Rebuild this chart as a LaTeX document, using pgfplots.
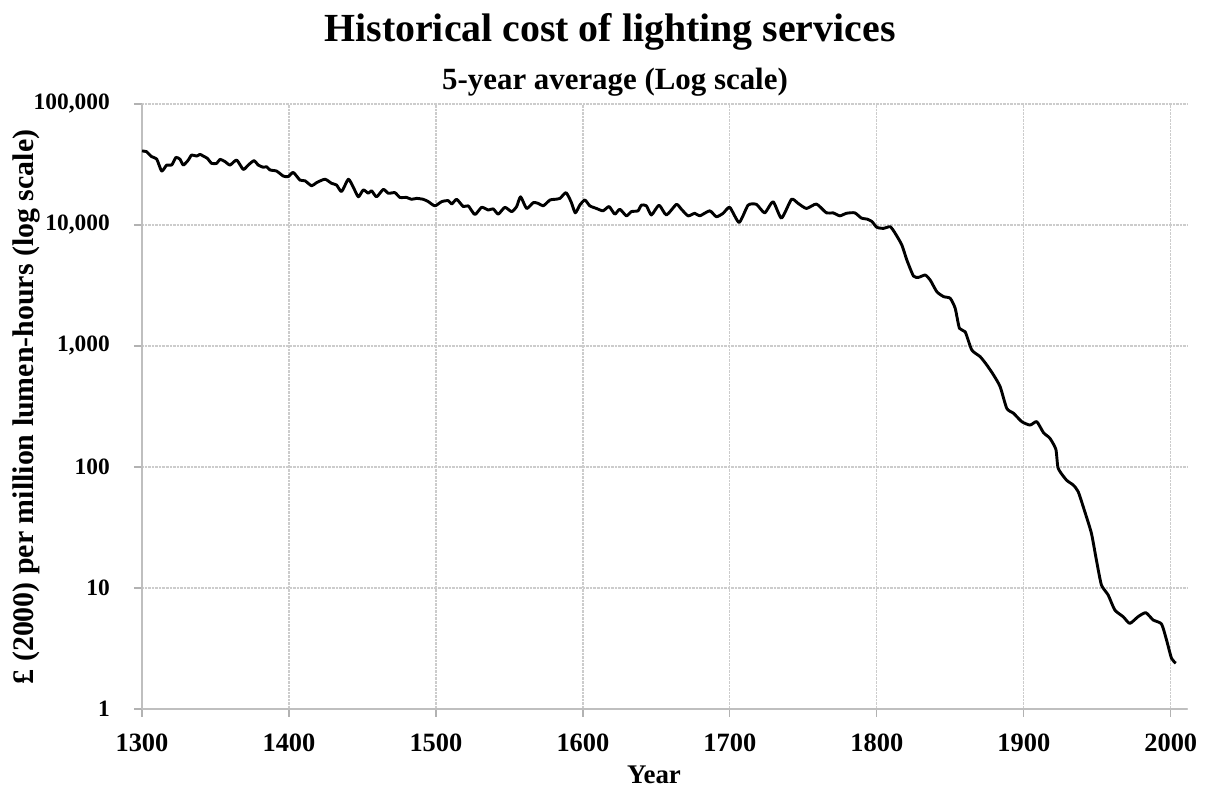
\documentclass[border=0pt]{standalone}
\usepackage{fontspec}
\setmainfont{Liberation Serif}
\usepackage{pgfplots}
\pgfplotsset{compat=1.18}
\begin{document}
\begin{tikzpicture}
\useasboundingbox (-142bp,-79bp) rectangle (1064bp,709bp);
\begin{axis}[
  at={(0,0)}, anchor=south west,
  scale only axis, width=1045bp, height=605bp,
  ymode=log, log basis y=10,
  xmin=1300, xmax=2011, ymin=1, ymax=100000,
  xtick={1300,1400,1500,1600,1700,1800,1900,2000},
  xticklabels={1300,1400,1500,1600,1700,1800,1900,2000},
  ytick={1,10,100,1000,10000,100000},
  yticklabels={1,10,100,{1,000},{10,000},{100,000}},
  yminorticks=false, xminorticks=false,
  axis lines*=left,
  axis line style={-, draw=black!25, line width=1.5bp},
  grid=major,
  major grid style={densely dotted, black!20, line width=1.2bp},
  tick align=outside, major tick length=8bp,
  tick style={black!30, line width=1.2bp},
  xticklabel style={font=\fontsize{26.5}{26.5}\selectfont\bfseries, anchor=base, inner sep=0pt, yshift=-35bp},
  yticklabel style={font=\fontsize{23.5}{23.5}\selectfont\bfseries, anchor=east, inner sep=0pt, xshift=-24bp},
  clip=false,
]
\addplot[black, line width=2.9bp, line join=round, smooth, tension=0.35] table[row sep=\\] {
x y\\
1300 40900\\ 1303 40400\\ 1306.6 36700\\ 1310 35100\\ 1313.4 27900\\ 1316.8 31300\\
1320.2 31300\\ 1323.1 36200\\ 1325.9 34900\\ 1328.1 31300\\ 1331.5 34400\\ 1333.8 37900\\
1337.2 37100\\ 1339.5 38400\\ 1341.7 37100\\ 1344.4 35600\\ 1347.4 32300\\ 1350.8 32300\\
1353.1 34900\\ 1356.5 33400\\ 1359.9 31300\\ 1364.4 34400\\ 1368.9 28800\\ 1372.3 31300\\
1376.2 34000\\ 1379.1 31300\\ 1382.5 30000\\ 1384.8 30300\\ 1387.1 28500\\ 1391.6 27900\\
1396.1 25400\\ 1399.5 25100\\ 1402.9 27200\\ 1407.5 23500\\ 1410.9 23200\\ 1415.4 21100\\
1418.8 22400\\ 1424.5 23900\\ 1429 22100\\ 1432.4 21400\\ 1435.8 18900\\ 1440.4 23900\\
1443.8 20500\\ 1447.2 17100\\ 1450.6 19500\\ 1454 18300\\ 1456.2 19200\\ 1459.6 17100\\
1464.2 19700\\ 1467.6 18300\\ 1472.1 18500\\ 1475.5 16900\\ 1480 16900\\ 1483.4 16300\\
1486.8 16600\\ 1491.4 16300\\ 1494.8 15600\\ 1499.3 14400\\ 1503.9 15600\\ 1508.4 15900\\
1510.7 14900\\ 1514.1 16300\\ 1518.6 14200\\ 1522 14400\\ 1526.5 12200\\ 1531.1 14000\\
1535.6 13300\\ 1539 13600\\ 1542.4 12300\\ 1546.9 14000\\ 1551.5 12900\\ 1554.9 14200\\
1557.6 17100\\ 1561.7 13700\\ 1566.2 15300\\ 1569.6 15100\\ 1573 14400\\ 1577.6 16100\\
1580.9 16300\\ 1584.4 16600\\ 1588.5 18500\\ 1592 15500\\ 1594.8 12600\\ 1597.9 14600\\
1601.3 16100\\ 1604.7 14400\\ 1609.2 13700\\ 1613.7 13100\\ 1617.8 14200\\ 1621.7 12300\\
1625.1 13500\\ 1629.6 11900\\ 1633 12900\\ 1637.5 13100\\ 1639.8 14600\\ 1643.2 14400\\
1646.6 12100\\ 1651.8 14600\\ 1656.8 12100\\ 1663.6 14800\\ 1667 13500\\ 1671.6 11900\\
1676.1 12500\\ 1679.5 11900\\ 1686.3 13100\\ 1690.8 11700\\ 1695.4 12500\\ 1699.9 14000\\
1706.3 10500\\ 1712.4 14600\\ 1718.1 14800\\ 1723.7 12600\\ 1729.4 15600\\ 1735.1 11400\\
1741.9 16300\\ 1746.4 15100\\ 1752.1 13700\\ 1758.9 14900\\ 1765.7 12600\\ 1770.2 12600\\
1774.8 11900\\ 1779.3 12500\\ 1785 12600\\ 1789.5 11400\\ 1793.2 11200\\ 1796.6 10700\\
1800 9570\\ 1804.5 9380\\ 1809.1 9680\\ 1812.5 8530\\ 1817 6840\\ 1820.4 5140\\
1824.9 3790\\ 1828.3 3690\\ 1832.9 3860\\ 1836.3 3510\\ 1840.8 2810\\ 1845.4 2560\\
1849.9 2480\\ 1853.3 2050\\ 1856.2 1400\\ 1860.1 1310\\ 1864.6 927\\ 1870.3 816\\
1874.8 697\\ 1879.4 576\\ 1883.9 461\\ 1888.4 305\\ 1893 278\\ 1898.6 237\\
1904.3 222\\ 1908.8 237\\ 1913.4 192\\ 1917.7 173\\ 1921.8 140\\ 1923.4 97.5\\
1929 78\\ 1933.6 71\\ 1937 62.5\\ 1941.5 42.7\\ 1946 28.3\\ 1949.4 17\\
1952.8 10.6\\ 1957.4 8.75\\ 1961.9 6.58\\ 1967.6 5.79\\ 1972.1 5.1\\ 1977.8 5.8\\
1983 6.25\\ 1988 5.44\\ 1993.7 5.04\\ 1997.1 3.72\\ 2000.5 2.62\\ 2003.4 2.39\\
};
\end{axis}
\node[anchor=base, font=\fontsize{40}{40}\selectfont\bfseries] at (468bp,667bp) {Historical cost of lighting services};
\node[anchor=base, font=\fontsize{31}{31}\selectfont\bfseries] at (473bp,619bp) {5-year average (Log scale)};
\node[rotate=90, anchor=center, font=\fontsize{30}{30}\selectfont\bfseries] at (-116bp,302bp) {£ (2000) per million lumen-hours (log scale)};
\node[anchor=base, font=\fontsize{27}{27}\selectfont\bfseries] at (512bp,-74bp) {Year};
\end{tikzpicture}
\end{document}
